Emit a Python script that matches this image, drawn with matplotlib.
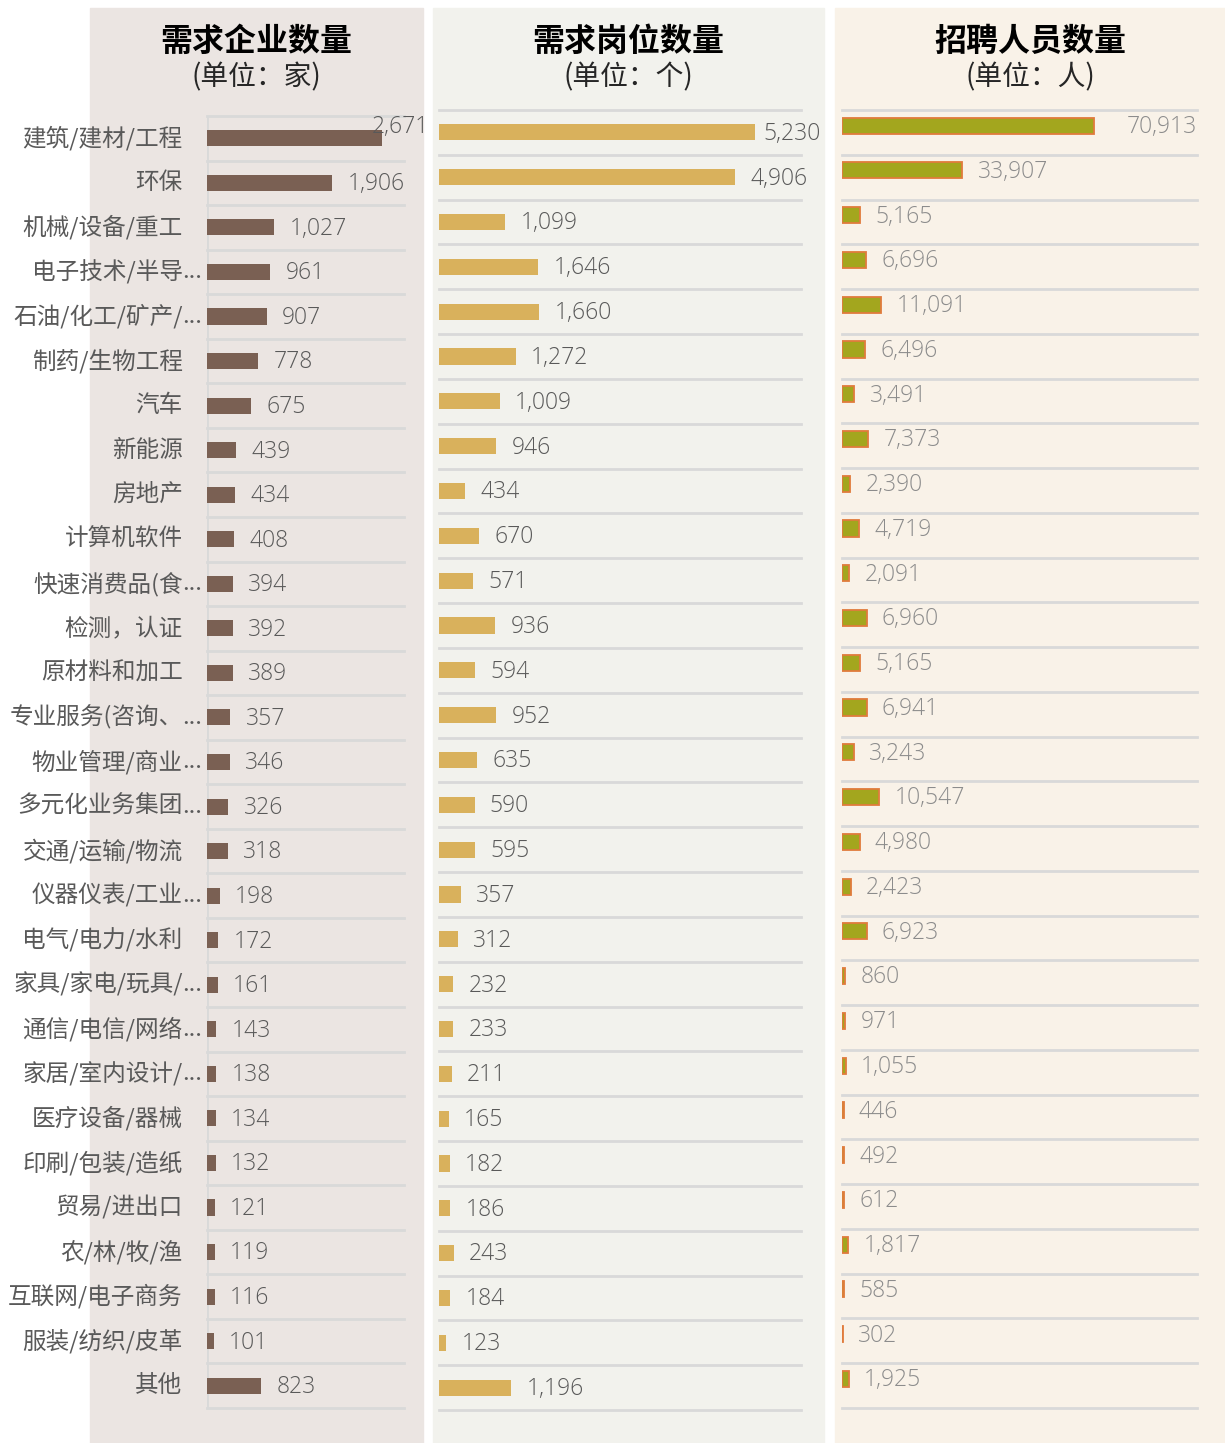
import numpy as np
import matplotlib
matplotlib.use('Agg')
import matplotlib.pyplot as plt
from matplotlib.patches import Rectangle

plt.rcParams['font.family'] = ['Noto Sans CJK SC', 'DejaVu Sans']

industries = ['建筑/建材/工程', '环保', '机械/设备/重工', '电子技术/半导...', '石油/化工/矿产/...',
              '制药/生物工程', '汽车', '新能源', '房地产', '计算机软件',
              '快速消费品(食...', '检测，认证', '原材料和加工', '专业服务(咨询、...', '物业管理/商业...',
              '多元化业务集团...', '交通/运输/物流', '仪器仪表/工业...', '电气/电力/水利', '家具/家电/玩具/...',
              '通信/电信/网络...', '家居/室内设计/...', '医疗设备/器械', '印刷/包装/造纸', '贸易/进出口',
              '农/林/牧/渔', '互联网/电子商务', '服装/纺织/皮革', '其他']
companies = [2671, 1906, 1027, 961, 907, 778, 675, 439, 434, 408,
             394, 392, 389, 357, 346, 326, 318, 198, 172, 161,
             143, 138, 134, 132, 121, 119, 116, 101, 823]
positions = [5230, 4906, 1099, 1646, 1660, 1272, 1009, 946, 434, 670,
             571, 936, 594, 952, 635, 590, 595, 357, 312, 232,
             233, 211, 165, 182, 186, 243, 184, 123, 1196]
hires = [70913, 33907, 5165, 6696, 11091, 6496, 3491, 7373, 2390, 4719,
         2091, 6960, 5165, 6941, 3243, 10547, 4980, 2423, 6923, 860,
         971, 1055, 446, 492, 612, 1817, 585, 302, 1925]

titles = ['需求企业数量', '需求岗位数量', '招聘人员数量']
units = ['(单位：家)', '(单位：个)', '(单位：人)']

W, H = 1225, 1443
fig = plt.figure(figsize=(W / 100, H / 100), dpi=100)


def px(x0, y0, x1, y1):
    # pixel box (top-left origin) -> figure fraction
    return [x0 / W, 1 - y1 / H, (x1 - x0) / W, (y1 - y0) / H]


bg_spans = [(90, 423), (433, 824), (835, 1225)]
bg_colors = ['#ebe5e2', '#f2f2ed', '#f9f2e8']
for (x0, x1), c, t, u in zip(bg_spans, bg_colors, titles, units):
    fig.patches.append(Rectangle((x0 / W, 0), (x1 - x0) / W, 1 - 8 / H,
                                 transform=fig.transFigure, color=c, zorder=-10))
    xc = (x0 + x1) / 2 / W
    fig.text(xc, 1 - 42 / H, t, ha='center', va='center', fontsize=23, fontweight='bold', color='black')
    fig.text(xc, 1 - 77 / H, u, ha='center', va='center', fontsize=20, color='#262626')

num_font = dict(family=['Open Sans', 'DejaVu Sans'], fontweight='light', fontsize=16.5)


def draw_panel(box, vals, xmax, color, edge=None, lab_color='#595959', yshift=0.0, first=None):
    ax = fig.add_axes(px(*box))
    ax.set_facecolor('none')
    n = len(vals)
    y = np.arange(n) + yshift
    if edge:
        ax.barh(y, vals, height=0.36, color=color, edgecolor=edge, linewidth=1.3, zorder=3)
    else:
        ax.barh(y, vals, height=0.36, color=color, zorder=3)
    ax.set_ylim(n - 0.5, -0.5)
    ax.set_xlim(0, xmax)
    for g in np.arange(n + 1) - 0.5:
        ax.axhline(g, color='#d9d9d9', lw=2, zorder=1, clip_on=False)
    for s in ax.spines.values():
        s.set_visible(False)
    ax.set_xticks([])
    ax.set_yticks([])
    for i, v in enumerate(vals):
        if i == 0 and first is not None:
            xy, off, ha = first(v, xmax)
        else:
            xy, off, ha = (v, y[i]), (11, -1), 'left'
        ax.annotate(f'{v:,}', xy, xytext=off, textcoords='offset points',
                    ha=ha, va='center', color=lab_color, **num_font)
    return ax


ax1 = draw_panel((207, 116, 404, 1408), companies, 3000, '#7a6053',
                 first=lambda v, m: ((v, 0), (-8, 8), 'left'))
ax1.axvline(0, color='#d9d9d9', lw=2, zorder=1)

# category labels: truncated names keep their ellipsis hanging past the label edge
for i, name in enumerate(industries):
    main = name[:-3] if name.endswith('...') else name
    ax1.annotate(main, (0, i), xycoords=('axes fraction', 'data'), xytext=(-17.5, 0),
                 textcoords='offset points', ha='right', va='center', fontsize=17, color='#595959')
    if main != name:
        ax1.annotate('...', (0, i), xycoords=('axes fraction', 'data'), xytext=(-17.5, 0),
                     textcoords='offset points', ha='left', va='center', fontsize=17, color='#595959')

draw_panel((439, 110, 801, 1410), positions, 6000, '#d9b15c',
           first=lambda v, m: ((v, 0), (6.5, -1), 'left'))

draw_panel((842, 110, 1197, 1408), hires, 100000, '#a3a61e', edge='#e07b3c',
           lab_color='#8c8c8c', yshift=-0.15,
           first=lambda v, m: ((m, -0.15), (0, -1), 'right'))

fig.savefig('out.png', dpi=100)
